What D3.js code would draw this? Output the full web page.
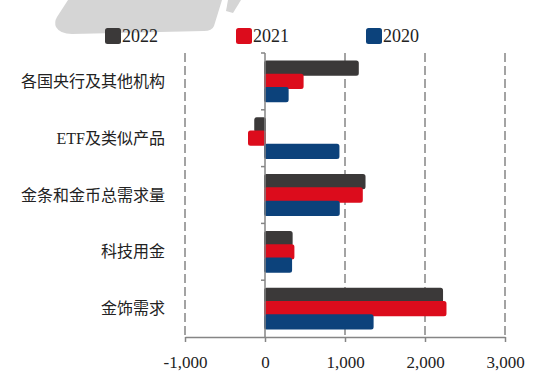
<!DOCTYPE html>
<html>
<head>
<meta charset="utf-8">
<script src="https://cdn.jsdelivr.net/npm/d3@7"></script>
<style>
  body { margin: 0; background: #fff; }
  svg { display: block; }
</style>
</head>
<body>
<div id="chart"></div>
<script>
// gold demand by sector, 2020-2022 (tonnes)
const categories = ["各国央行及其他机构", "ETF及类似产品", "金条和金币总需求量", "科技用金", "金饰需求"];
const years = ["2022", "2021", "2020"];
const v2022 = [1160, -122, 1244, 333, 2213];
const v2021 = [470, -200, 1210, 355, 2256];
const v2020 = [283, 918, 922, 326, 1345];
const xTicks = [-1000, 0, 1000, 2000, 3000];
const colors = ["#3b3939", "#dc0c1c", "#0c427b"];

const series = [v2022, v2021, v2020];

const width = 550, height = 388;
const svg = d3.select("#chart").append("svg")
    .attr("width", width)
    .attr("height", height);

// faint watermark blob at the top
svg.append("path")
    .attr("d", "M68,0 L222,0 L214,26 Q212,31 204,31 L72,34 Q60,34 56,27 Q54,22 57,17 Z")
    .style("fill", "#d5d5d5");
svg.append("path")
    .attr("d", "M228,0 L241,0 L233,13 L226,11 Z")
    .style("fill", "#d5d5d5");

const x = d3.scaleLinear().domain([-1000, 3000]).range([185, 505]);
const y = d3.scaleBand().domain(categories).range([53, 337])
    .paddingInner(0.3).paddingOuter(0.15);
const ySub = d3.scaleBand().domain(years).range([0, y.bandwidth()]);

const axisColor = "#858585";

// dashed gridlines
svg.append("g").selectAll("line")
    .data(xTicks.filter(d => d !== 0))
    .enter().append("line")
    .attr("x1", d => x(d)).attr("x2", d => x(d))
    .attr("y1", 53).attr("y2", 337)
    .style("stroke", axisColor)
    .style("stroke-width", 1.5)
    .style("stroke-dasharray", "9,4");

// bars
categories.forEach((c, i) => {
    series.forEach((vals, j) => {
        const v = vals[i];
        svg.append("rect")
            .attr("x", x(Math.min(0, v)))
            .attr("y", y(c) + ySub(years[j]))
            .attr("width", Math.abs(x(v) - x(0)))
            .attr("height", ySub.bandwidth())
            .attr("rx", 1.5)
            .style("fill", colors[j])
            .style("stroke", colors[j])
            .style("stroke-width", 2)
            .style("stroke-linejoin", "round");
    });
});

// zero axis with ticks at category boundaries
const step = y.step();
const bounds = d3.range(categories.length).map(i => 53 + i * step);
svg.append("line")
    .attr("x1", x(0)).attr("x2", x(0))
    .attr("y1", 53).attr("y2", 337)
    .style("stroke", axisColor).style("stroke-width", 1.5);
svg.append("g").selectAll("line")
    .data(bounds)
    .enter().append("line")
    .attr("x1", x(0) - 4).attr("x2", x(0))
    .attr("y1", d => d).attr("y2", d => d)
    .style("stroke", axisColor).style("stroke-width", 1.5);

// bottom axis, plain hyphen for negatives like the source
const fmt = d3.format(",");
const xAxis = d3.axisBottom(x)
    .tickValues(xTicks)
    .tickSize(5)
    .tickSizeOuter(0)
    .tickPadding(14)
    .tickFormat(d => fmt(d).replace("\u2212", "-"));
const gx = svg.append("g")
    .attr("transform", "translate(0,337)")
    .call(xAxis);
gx.select(".domain").style("stroke", axisColor).style("stroke-width", 1.5);
gx.selectAll(".tick line").style("stroke", axisColor).style("stroke-width", 1.5);
gx.selectAll(".tick text")
    .style("font-family", "'Liberation Serif', 'Times New Roman', serif")
    .style("font-size", "17px")
    .style("fill", "#222");

// category labels
svg.append("g").selectAll("text")
    .data(categories)
    .enter().append("text")
    .attr("x", 165)
    .attr("y", d => y(d) + y.bandwidth() / 2)
    .attr("dy", "0.35em")
    .attr("text-anchor", "end")
    .style("font-family", "'Liberation Serif', 'Noto Sans CJK SC', serif")
    .style("font-size", "16px")
    .style("fill", "#222")
    .text(d => d);

// legend
const legendX = [105, 236, 366];
years.forEach((yr, j) => {
    const g = svg.append("g").attr("transform", `translate(${legendX[j]},28)`);
    g.append("rect")
        .attr("width", 16).attr("height", 16).attr("rx", 2.5)
        .style("fill", colors[j]);
    g.append("text")
        .attr("x", 17).attr("y", 13.5)
        .style("font-family", "'Liberation Serif', 'Times New Roman', serif")
        .style("font-size", "18px")
        .style("fill", "#222")
        .text(yr);
});
</script>
</body>
</html>
